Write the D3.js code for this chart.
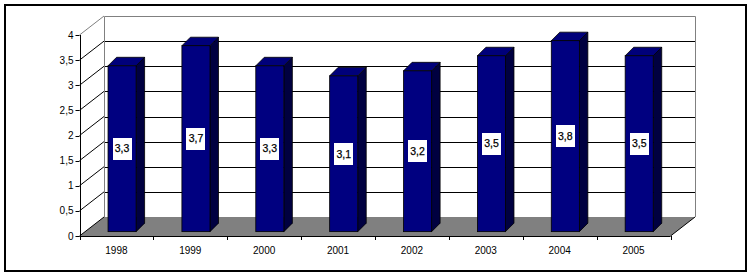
<!DOCTYPE html>
<html>
<head>
<meta charset="utf-8">
<script src="https://cdn.jsdelivr.net/npm/d3@7"></script>
<style>
html,body{margin:0;padding:0;background:#fff;}
svg{display:block;}
text{font-family:"Liberation Sans",Arial,sans-serif;}
</style>
</head>
<body>
<script>
const categories = ["1998","1999","2000","2001","2002","2003","2004","2005"];
const values = [3.3, 3.7, 3.3, 3.1, 3.2, 3.5, 3.8, 3.5];
const valueLabels = ["3,3","3,7","3,3","3,1","3,2","3,5","3,8","3,5"];
const yTicks = [0, 0.5, 1, 1.5, 2, 2.5, 3, 3.5, 4];
const yTickLabels = ["0","0,5","1","1,5","2","2,5","3","3,5","4"];

const W = 752, H = 276;
const svg = d3.select("body").append("svg").attr("width", W).attr("height", H);

// front plane geometry
const X0 = 79.5, X1 = 670.5, Y0 = 236, Y4 = 35;
const DX = 24.5, DY = -19;          // depth of the 3D box
const F1 = 0.23;                      // bar front depth fraction
const BDX = 8.5, BDY = -8.5;          // bar depth
const x = d3.scaleBand().domain(categories).range([X0, X1]);
const y = d3.scaleLinear().domain([0, 4]).range([Y0, Y4]);
const px = v => Math.round(v) + 0.5;

// outer border
svg.append("rect").attr("x", 5).attr("y", 5).attr("width", 741).attr("height", 266)
  .attr("fill", "#fff").attr("stroke", "#000").attr("stroke-width", 2);

const g = svg.append("g");

// floor
g.append("polygon")
  .attr("points", [[X0, Y0], [X1, Y0], [X1 + DX, Y0 + DY], [X0 + DX, Y0 + DY]].map(p => p.join(",")).join(" "))
  .attr("fill", "#808080");

// back wall gridlines
yTicks.forEach(t => {
  const yy = px(y(t) + DY);
  if (t > 0 && t < 4) {
    g.append("line").attr("x1", X0 + DX).attr("x2", X1 + DX).attr("y1", yy).attr("y2", yy)
      .attr("stroke", "#000").attr("stroke-width", 1);
  }
});
// back wall border (gray)
g.append("path")
  .attr("d", `M${px(X0 + DX)},${y(0) + DY}V${px(y(4) + DY)}H${px(X1 + DX)}V${y(0) + DY}`)
  .attr("fill", "none").attr("stroke", "#808080").attr("stroke-width", 1);

// left wall diagonals
yTicks.forEach(t => {
  g.append("line").attr("x1", X0).attr("y1", y(t)).attr("x2", X0 + DX).attr("y2", y(t) + DY)
    .attr("stroke", t === 4 ? "#808080" : "#000").attr("stroke-width", 1);
});
// floor right edge
g.append("line").attr("x1", X1).attr("y1", Y0).attr("x2", X1 + DX).attr("y2", Y0 + DY)
  .attr("stroke", "#000").attr("stroke-width", 1);

// bars
const bw = x.bandwidth() * 0.38;
categories.forEach((c, i) => {
  const v = values[i];
  const cx = x(c) + x.bandwidth() / 2 + F1 * DX;
  const l = cx - bw / 2, r = cx + bw / 2;
  const b = y(0) + F1 * DY, tp = y(v) + F1 * DY;
  const bar = g.append("g");
  // side
  bar.append("polygon")
    .attr("points", [[r, b], [r + BDX, b + BDY], [r + BDX, tp + BDY], [r, tp]].map(p => p.join(",")).join(" "))
    .attr("fill", "#000040").attr("stroke", "#000").attr("stroke-width", 0.8);
  // top
  bar.append("polygon")
    .attr("points", [[l, tp], [r, tp], [r + BDX, tp + BDY], [l + BDX, tp + BDY]].map(p => p.join(",")).join(" "))
    .attr("fill", "#00007a").attr("stroke", "#000").attr("stroke-width", 0.8);
  // front
  bar.append("rect").attr("x", l).attr("y", tp).attr("width", bw).attr("height", b - tp)
    .attr("fill", "#000080").attr("stroke", "#000").attr("stroke-width", 0.8);
  // label
  const my = (b + tp) / 2;
  bar.append("rect").attr("x", Math.round(cx - 9.5)).attr("y", Math.round(my - 11)).attr("width", 19).attr("height", 22)
    .attr("fill", "#fff");
  bar.append("text").attr("x", cx).attr("y", my).attr("dy", "0.36em")
    .attr("text-anchor", "middle").attr("font-size", 10.5).attr("fill", "#000")
    .attr("stroke", "#000").attr("stroke-width", 0.25)
    .text(valueLabels[i]);
});

// y axis
g.append("line").attr("x1", px(X0)).attr("x2", px(X0)).attr("y1", y(4)).attr("y2", Y0 + 4)
  .attr("stroke", "#000").attr("stroke-width", 1);
yTicks.forEach((t, i) => {
  g.append("line").attr("x1", X0 - 4).attr("x2", X0).attr("y1", px(y(t))).attr("y2", px(y(t)))
    .attr("stroke", "#000").attr("stroke-width", 1);
  g.append("text").attr("x", X0 - 6).attr("y", y(t)).attr("dy", "0.36em")
    .attr("text-anchor", "end").attr("font-size", 10).attr("fill", "#000")
    .text(yTickLabels[i]);
});

// x axis
g.append("line").attr("x1", X0).attr("x2", X1).attr("y1", px(Y0)).attr("y2", px(Y0))
  .attr("stroke", "#000").attr("stroke-width", 1);
categories.forEach((c, i) => {
  const tx = px(x(c) + x.bandwidth());
  g.append("line").attr("x1", tx).attr("x2", tx)
    .attr("y1", Y0).attr("y2", Y0 + 4).attr("stroke", "#000").attr("stroke-width", 1);
  g.append("text").attr("x", x(c) + x.bandwidth() / 2).attr("y", 250).attr("dy", "0.36em")
    .attr("text-anchor", "middle").attr("font-size", 10).attr("fill", "#000").text(c);
});
</script>
</body>
</html>
